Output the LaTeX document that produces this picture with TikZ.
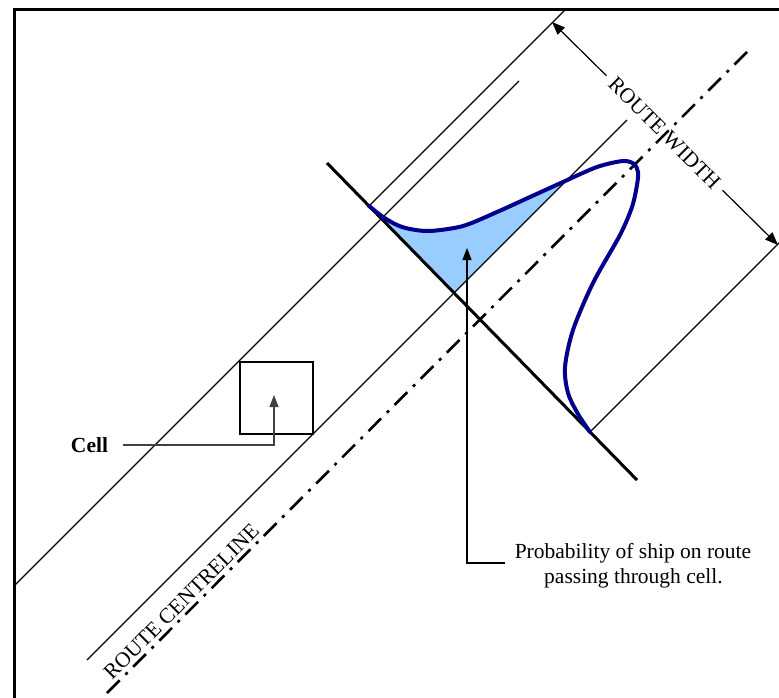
\documentclass[tikz,border=0pt]{standalone}
\usepackage{fontspec}
\setmainfont{Liberation Serif}
\usetikzlibrary{arrows.meta}
\definecolor{curveblue}{RGB}{0,0,140}
\definecolor{probfill}{RGB}{153,204,255}
\begin{document}
\begin{tikzpicture}[x=1pt,y=-1pt,
  thinline/.style={line width=1.2pt},
  thickline/.style={line width=3pt},
  frameline/.style={line width=3pt},
  centreline/.style={line width=2.6pt, dash pattern=on 18pt off 8pt on 3pt off 8pt},
  probcurve/.style={draw=curveblue, line width=4pt, line cap=round, line join=round},
  lbl/.style={font=\fontsize{21.5}{25}\selectfont, inner sep=0pt},
  tipA/.style={-{Triangle[length=12pt,width=9pt]}},
  tipB/.style={-{Triangle[length=13pt,width=10pt]}}
]
\clip (0,0) rectangle (779,698);

% shaded probability
\begin{scope}
\clip (381,219) -- (481,119) -- (654.5,92.5) -- (454.5,292.5) -- cycle;
\fill[probfill] plot[smooth] coordinates {(369,206) (383,217) (397,225) (410,229) (430,231) (463,226) (497,212) (530,197) (563,182) (597,167) (623,161) (634,164) (638,172) (637,185) (632,207) (620,235) (593,283) (573,330) (565,367) (568,393) (578,414) (590,432)} -- cycle;
\end{scope}

% frame
\draw[frameline] (14,720) -- (14,10) -- (800,10);

% route lines
\coordinate (aS) at (14,586);  \coordinate (aE) at (519,81);
\coordinate (bS) at (87,660);  \coordinate (bE) at (627,120);
\coordinate (lxS) at (369,206); \coordinate (lxE) at (565,10);
\coordinate (rxS) at (591,431); \coordinate (rxE) at (800,222);
\coordinate (crS) at (327,163); \coordinate (crE) at (637,480);
\coordinate (clS) at (107,693); \coordinate (clE) at (747,52);
\draw[thinline] (aS) -- (aE);
\draw[thinline] (bS) -- (bE);
\draw[thinline] (lxS) -- (lxE);
\draw[thinline] (rxS) -- (rxE);
\draw[centreline] (clS) -- (clE);
\draw[thickline] (crS) -- (crE);

% probability curve
\draw[probcurve] plot[smooth] coordinates {(369,206) (383,217) (397,225) (410,229) (430,231) (463,226) (497,212) (530,197) (563,182) (597,167) (623,161) (634,164) (638,172) (637,185) (632,207) (620,235) (593,283) (573,330) (565,367) (568,393) (578,414) (590,432)};

% cell
\node[draw, line width=2pt, minimum width=73pt, minimum height=72pt, inner sep=0pt] (cellbox) at (276.5,398) {};
\node[lbl, font=\fontsize{21.5}{25}\selectfont\bfseries, anchor=base] (celllbl) at (89.5,452) {Cell};
\coordinate (cellstart) at (123,445);
\coordinate (celltip) at (274,395);
\draw[thinline, draw=black!75, tipA] (cellstart) -| (celltip);

% probability label
\node[lbl, anchor=base] (prob1) at (633,558) {Probability of ship on route};
\node[lbl, anchor=base] (prob2) at (633.5,583) {passing through cell.};
\coordinate (probstart) at (505,563);
\coordinate (probtip) at (467,248);
\draw[thinline, tipA] (probstart) -| (probtip);

% route width
\node[lbl, rotate=-45, inner sep=7pt] (rw) at (664.5,133) {ROUTE WIDTH};
\coordinate (rwA) at (552,22);
\coordinate (rwB) at (778,245);
\draw[thinline, tipB] (rw) -- (rwA);
\draw[thinline, tipB] (rw) -- (rwB);

% route centreline label
\node[lbl, rotate=45, anchor=base west] (rc) at (112,681) {ROUTE CENTRELINE};
\end{tikzpicture}
\end{document}
